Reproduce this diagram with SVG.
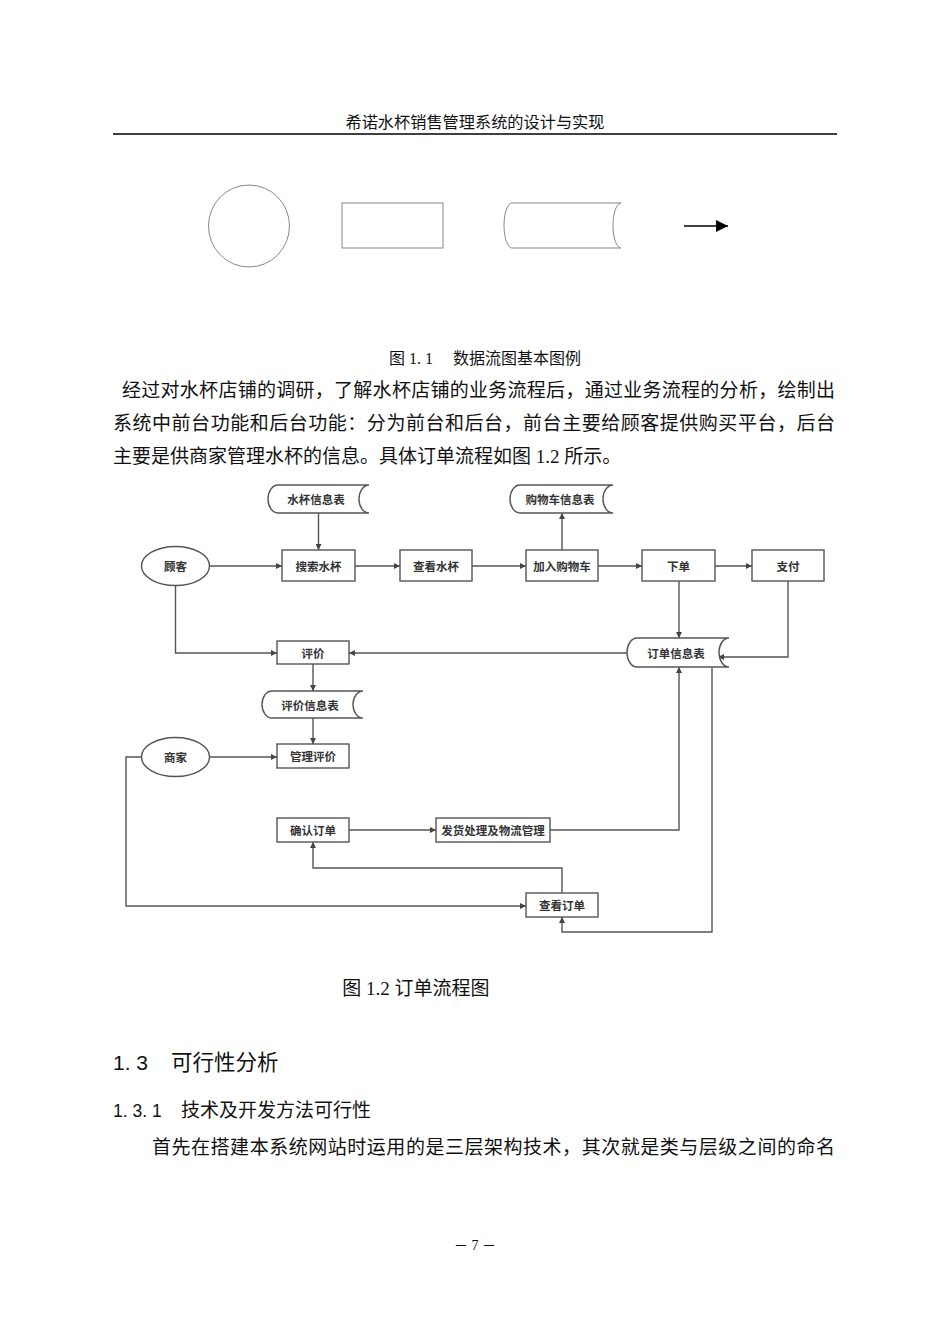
<svg xmlns="http://www.w3.org/2000/svg" width="950" height="1344" viewBox="0 0 950 1344">
<defs>
<style>
.body{font-family:"Liberation Serif","Noto Sans CJK SC",serif;fill:#111;}
.hd{font-family:"Liberation Sans","Noto Sans CJK SC",sans-serif;fill:#111;}
.lg{fill:none;stroke:#888;stroke-width:1;}
.nd{fill:#fff;stroke:#555;stroke-width:1.4;}
.lb{font-family:"Noto Sans CJK SC",sans-serif;font-size:11.5px;font-weight:bold;fill:#333;text-anchor:middle;dominant-baseline:central;}
.cn{fill:none;stroke:#555;stroke-width:1.4;marker-end:url(#ah);}
</style>
<marker id="ah" viewBox="0 0 10 10" refX="10" refY="5" markerWidth="6" markerHeight="6" markerUnits="userSpaceOnUse" orient="auto">
<path d="M0,0 L10,5 L0,10 Z" fill="#444"/>
</marker>
<marker id="ahb" viewBox="0 0 10 10" refX="10" refY="5" markerWidth="14" markerHeight="12" markerUnits="userSpaceOnUse" orient="auto">
<path d="M0,0 L10,5 L0,10 Z" fill="#000"/>
</marker>
</defs>
<rect width="950" height="1344" fill="#fff"/>

<!-- header -->
<text class="body" x="475" y="128" font-size="16.2" text-anchor="middle">希诺水杯销售管理系统的设计与实现</text>
<line x1="113" y1="134" x2="837" y2="134" stroke="#000" stroke-width="1.5"/>

<!-- legend -->
<g id="legend">
<ellipse class="lg" cx="249" cy="226" rx="40.5" ry="41"/>
<rect class="lg" x="342" y="203" width="101" height="45"/>
<path class="lg" d="M512,203 H621 A8,22.5 0 0 0 621,248 H512 A8,22.5 0 0 1 512,203 Z"/>
<path d="M684,226 H728" stroke="#000" stroke-width="1.5" fill="none" marker-end="url(#ahb)"/>
</g>
<text class="body" x="485" y="364" font-size="16" text-anchor="middle">图 1. 1　 数据流图基本图例</text>

<!-- paragraph -->
<text class="body" x="122" y="397" font-size="19" textLength="713" lengthAdjust="spacing">经过对水杯店铺的调研，了解水杯店铺的业务流程后，通过业务流程的分析，绘制出</text>
<text class="body" x="113" y="430" font-size="19" textLength="722" lengthAdjust="spacing">系统中前台功能和后台功能：分为前台和后台，前台主要给顾客提供购买平台，后台</text>
<text class="body" x="113" y="463" font-size="19">主要是供商家管理水杯的信息。具体订单流程如图 1.2 所示。</text>

<!-- connectors -->
<g id="connectors">
<path class="cn" d="M318.5,513 V550"/>
<path class="cn" d="M209.5,566 H282"/>
<path class="cn" d="M355,566 H400"/>
<path class="cn" d="M472,566 H526"/>
<path class="cn" d="M562,550 V513"/>
<path class="cn" d="M598,566 H642"/>
<path class="cn" d="M715,566 H752"/>
<path class="cn" d="M679,581 V638"/>
<path class="cn" d="M788,581 V657 H718"/>
<path class="cn" d="M627,653 H349"/>
<path class="cn" d="M175.5,585.5 V653 H277"/>
<path class="cn" d="M313,664 V691"/>
<path class="cn" d="M313,718 V744"/>
<path class="cn" d="M209.5,757 H277"/>
<path class="cn" d="M141.5,757 H126 V906 H526"/>
<path class="cn" d="M349,830 H436"/>
<path class="cn" d="M550,830 H679 V667"/>
<path class="cn" d="M562,893 V868 H313 V842"/>
<path class="cn" d="M712,667 V932 H562 V917"/>
</g>

<!-- nodes -->
<g id="n-shuibei-table">
<path class="nd" d="M278,485 H369 A10,14 0 0 0 369,513 H278 A10,14 0 0 1 278,485 Z"/>
<text class="lb" x="316" y="499">水杯信息表</text>
</g>
<g id="n-cart-table">
<path class="nd" d="M520,485 H613 A10,14 0 0 0 613,513 H520 A10,14 0 0 1 520,485 Z"/>
<text class="lb" x="560" y="499">购物车信息表</text>
</g>
<g id="n-customer">
<ellipse class="nd" cx="175.5" cy="566" rx="34" ry="19.5"/>
<text class="lb" x="175.5" y="566">顾客</text>
</g>
<g id="n-search">
<rect class="nd" x="282" y="550" width="73" height="31"/>
<text class="lb" x="318.5" y="566">搜索水杯</text>
</g>
<g id="n-view">
<rect class="nd" x="400" y="550" width="72" height="31"/>
<text class="lb" x="436" y="566">查看水杯</text>
</g>
<g id="n-addcart">
<rect class="nd" x="526" y="550" width="72" height="31"/>
<text class="lb" x="562" y="566">加入购物车</text>
</g>
<g id="n-order">
<rect class="nd" x="642" y="550" width="73" height="31"/>
<text class="lb" x="678.5" y="566">下单</text>
</g>
<g id="n-pay">
<rect class="nd" x="752" y="550" width="72" height="31"/>
<text class="lb" x="788" y="566">支付</text>
</g>
<g id="n-order-table">
<path class="nd" d="M637,638 H729 A10,14.5 0 0 0 729,667 H637 A10,14.5 0 0 1 637,638 Z"/>
<text class="lb" x="676" y="652.5">订单信息表</text>
</g>
<g id="n-review">
<rect class="nd" x="277" y="641" width="72" height="23"/>
<text class="lb" x="313" y="652.5">评价</text>
</g>
<g id="n-review-table">
<path class="nd" d="M272,691 H363 A10,13.5 0 0 0 363,718 H272 A10,13.5 0 0 1 272,691 Z"/>
<text class="lb" x="310" y="704.5">评价信息表</text>
</g>
<g id="n-merchant">
<ellipse class="nd" cx="175.5" cy="757" rx="34" ry="19.5"/>
<text class="lb" x="175.5" y="757">商家</text>
</g>
<g id="n-manage-review">
<rect class="nd" x="277" y="744" width="72" height="24"/>
<text class="lb" x="313" y="756">管理评价</text>
</g>
<g id="n-confirm">
<rect class="nd" x="277" y="818" width="72" height="24"/>
<text class="lb" x="313" y="830">确认订单</text>
</g>
<g id="n-ship">
<rect class="nd" x="436" y="818" width="114" height="24"/>
<text class="lb" x="493" y="830">发货处理及物流管理</text>
</g>
<g id="n-view-order">
<rect class="nd" x="526" y="893" width="72" height="24"/>
<text class="lb" x="562" y="905">查看订单</text>
</g>

<text class="body" x="416" y="995" font-size="19" text-anchor="middle">图 1.2 订单流程图</text>

<text class="hd" x="113" y="1070" font-size="21">1. 3</text>
<text class="hd" x="171" y="1070" font-size="21.5">可行性分析</text>
<text class="hd" x="113" y="1117" font-size="17.5">1. 3. 1</text>
<text class="hd" x="181" y="1117" font-size="19">技术及开发方法可行性</text>
<text class="body" x="152" y="1154" font-size="19" textLength="683" lengthAdjust="spacing">首先在搭建本系统网站时运用的是三层架构技术，其次就是类与层级之间的命名</text>

<text class="body" x="475" y="1250" font-size="14" text-anchor="middle" fill="#333">－ 7 －</text>
</svg>
